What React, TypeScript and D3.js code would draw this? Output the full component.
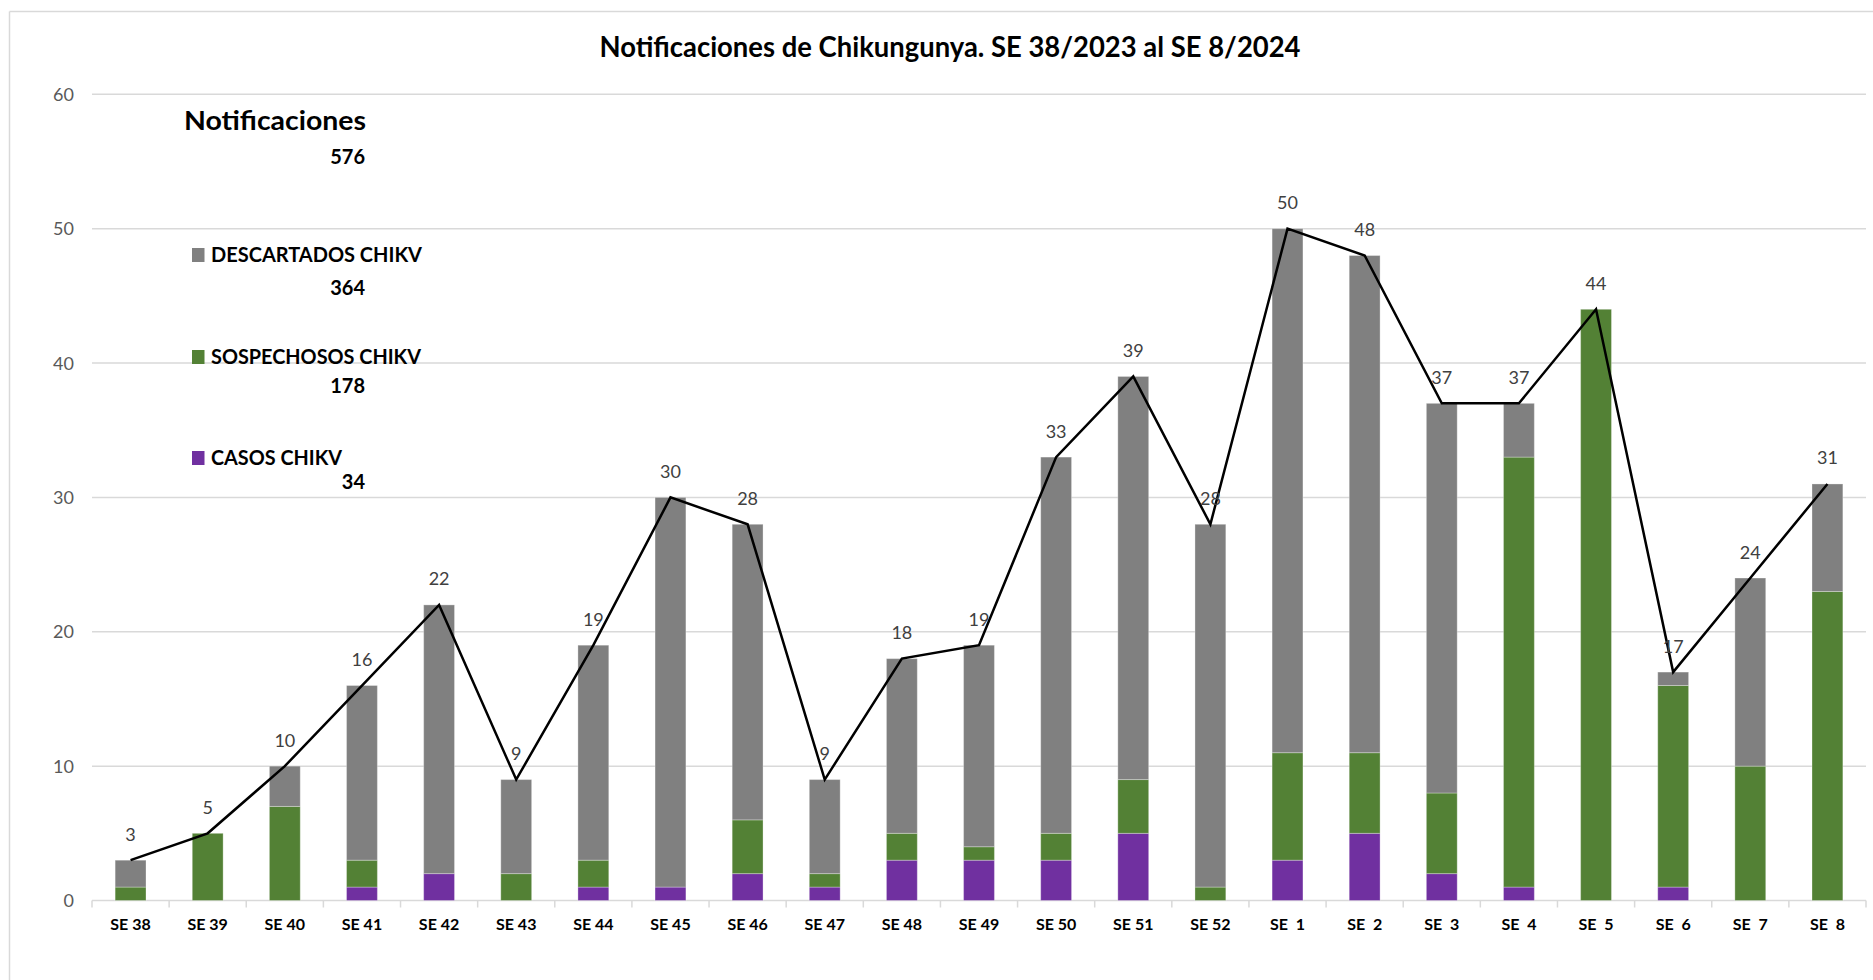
import React from "react";
import * as d3 from "d3";

const categories = ["SE 38","SE 39","SE 40","SE 41","SE 42","SE 43","SE 44","SE 45","SE 46","SE 47","SE 48","SE 49","SE 50","SE 51","SE 52","SE  1","SE  2","SE  3","SE  4","SE  5","SE  6","SE  7","SE  8"];
const casos =        [0,0,0,1,2,0,1,1,2,1,3,3,3,5,0,3,5,2,1,0,1,0,0];
const sospechosos =  [1,5,7,2,0,2,2,0,4,1,2,1,2,4,1,8,6,6,32,44,15,10,23];
const descartados =  [2,0,3,13,20,7,16,29,22,7,13,15,28,30,27,39,37,29,4,0,1,14,8];
const yTicks = [0,10,20,30,40,50,60];

const seriesNames = ["CASOS CHIKV","SOSPECHOSOS CHIKV","DESCARTADOS CHIKV"];
const seriesColors = ["#7030A0","#538135","#808080"];
const seriesTotals = [34,178,364];
const grandTotal = 576;

const W = 1873, H = 980;
const FONT = "Lato, 'Open Sans', sans-serif";

export default function App() {
  const x = d3.scaleBand<string>().domain(categories).range([92, 1866]).paddingInner(0.6).paddingOuter(0.3);
  const y = d3.scaleLinear().domain([0, 60]).range([900.5, 94.3]);
  const step = x.step();
  const bw = x.bandwidth();
  const rows = categories.map((c, i) => ({ cat: c, casos: casos[i], sospechosos: sospechosos[i], descartados: descartados[i] }));
  const stack = d3.stack<any>().keys(["casos","sospechosos","descartados"])(rows);
  const totals = categories.map((_, i) => casos[i] + sospechosos[i] + descartados[i]);
  const cx = (c: string) => (x(c) as number) + bw / 2;
  const line = d3.line<number>().x((_, i) => cx(categories[i])).y(d => y(d));

  const legendY = [451, 350, 248]; // square tops for casos, sospechosos, descartados
  const legendLen = [131, 210, 211];
  const legendNumY = [489, 393, 295];

  return (
    <div style={{ position: "fixed", left: 0, top: 0 }}>
      <svg width={W} height={H} style={{ display: "block", background: "#fff", fontFamily: FONT }}>
        {/* chart border */}
        <line x1={9.5} x2={9.5} y1={11.5} y2={H} stroke="#d9d9d9" strokeWidth={1.5} />
        <line x1={9.5} x2={W} y1={11.5} y2={11.5} stroke="#d9d9d9" strokeWidth={1.5} />

        <text x={950} y={57} textAnchor="middle" fontSize={28} fontWeight="bold" fill="#000" textLength={701} lengthAdjust="spacingAndGlyphs">
          Notificaciones de Chikungunya. SE 38/2023 al SE 8/2024
        </text>

        {/* gridlines and y ticks */}
        {yTicks.map(t => (
          <g key={t}>
            <line x1={92} x2={1866} y1={y(t)} y2={y(t)} stroke="#d9d9d9" strokeWidth={1.5} />
            <text x={74} y={y(t) + 6.5} textAnchor="end" fontSize={18} fill="#595959">{t}</text>
          </g>
        ))}

        {/* x tick marks */}
        {d3.range(categories.length + 1).map(i => {
          const xx = 92 + i * step;
          return <line key={i} x1={xx} x2={xx} y1={y(0)} y2={y(0) + 7} stroke="#d9d9d9" strokeWidth={1.5} />;
        })}

        {/* bars */}
        {stack.map((s, si) => (
          <g key={si} fill={seriesColors[si]}>
            {s.map((d, i) => d[1] - d[0] > 0 ? (
              <rect key={i} x={x(categories[i])} width={bw} y={y(d[1])} height={y(d[0]) - y(d[1])}
                stroke="rgba(255,255,255,0.3)" strokeWidth={1} />
            ) : null)}
          </g>
        ))}

        {/* total line */}
        <path d={line(totals) || ""} fill="none" stroke="#000" strokeWidth={2.5} strokeLinejoin="miter" />

        {/* data labels */}
        {totals.map((t, i) => (
          <text key={i} x={cx(categories[i])} y={y(t) - 19.5} textAnchor="middle" fontSize={18} fill="#404040">{t}</text>
        ))}

        {/* x labels */}
        {categories.map(c => (
          <text key={c} x={cx(c)} y={930} textAnchor="middle" fontSize={16} fontWeight="bold" fill="#000" style={{ whiteSpace: "pre" }}>{c}</text>
        ))}

        {/* legend */}
        <text x={184} y={130} fontSize={26} fontWeight="bold" fill="#000" textLength={182} lengthAdjust="spacingAndGlyphs">Notificaciones</text>
        <text x={365} y={164} textAnchor="end" fontSize={20} fontWeight="bold" fill="#000">{grandTotal}</text>
        {seriesNames.map((n, i) => (
          <g key={n}>
            <rect x={192} y={legendY[i]} width={12.5} height={14} fill={seriesColors[i]} />
            <text x={211} y={legendY[i] + 14} fontSize={21} fontWeight="bold" fill="#000" textLength={legendLen[i]} lengthAdjust="spacingAndGlyphs">{n}</text>
            <text x={365} y={legendNumY[i]} textAnchor="end" fontSize={20} fontWeight="bold" fill="#000">{seriesTotals[i]}</text>
          </g>
        ))}
      </svg>
    </div>
  );
}
